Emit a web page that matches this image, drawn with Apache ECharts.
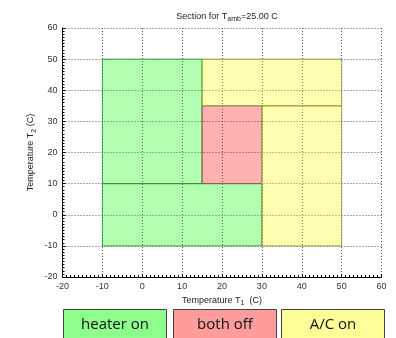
<!DOCTYPE html>
<html>
<head>
<meta charset="utf-8">
<script src="https://cdn.jsdelivr.net/npm/echarts@6/dist/echarts.min.js"></script>
<style>
  html, body { margin: 0; padding: 0; background: #fff; }
  #chart { width: 396px; height: 338px; }
</style>
</head>
<body>
<div id="chart"></div>
<script>
// Operating regions in the (T1, T2) plane, each rectangle as [x0, x1, y0, y1]
const heaterRects = [[-10, 15, 10, 50], [-10, 30, -10, 10]];
const offRects = [[15, 30, 10, 35]];
const acRects = [[15, 50, 35, 50], [30, 50, -10, 35]];

const axisTicks = [-20, -10, 0, 10, 20, 30, 40, 50, 60];
const legendNames = ['heater on', 'both off', 'A/C on'];
const ambientTemp = 25.00;

const chart = echarts.init(document.getElementById('chart'), null, { renderer: 'canvas' });

function rectSeries(name, rects, fill, edge) {
  return {
    name: name,
    type: 'custom',
    coordinateSystem: 'cartesian2d',
    data: rects,
    encode: { x: [0, 1], y: [2, 3] },
    renderItem: function (params, api) {
      const p0 = api.coord([api.value(0), api.value(3)]);
      const p1 = api.coord([api.value(1), api.value(2)]);
      return {
        type: 'rect',
        shape: { x: p0[0], y: p0[1], width: p1[0] - p0[0], height: p1[1] - p0[1] },
        style: { fill: fill, stroke: edge, lineWidth: 1 }
      };
    }
  };
}

const tickFont = { fontFamily: 'Liberation Sans', fontSize: 9, color: '#333' };
const nameRich = {
  a: { fontFamily: 'Liberation Sans', fontSize: 9, color: '#222' },
  s: { fontFamily: 'Liberation Sans', fontSize: 7, color: '#222', padding: [6, 0, 0, 0] }
};

const axisCommon = {
  type: 'value',
  min: axisTicks[0],
  max: axisTicks[axisTicks.length - 1],
  interval: 10,
  axisLine: { show: true, onZero: false, lineStyle: { color: '#000', width: 1 } },
  axisTick: { show: true, inside: true, length: 3, lineStyle: { color: '#000' } },
  minorTick: { show: true, splitNumber: 10, length: 2, lineStyle: { color: '#000' } },
  splitLine: { show: true, lineStyle: { color: '#555', type: [1, 2], width: 1 } },
  axisLabel: Object.assign({ margin: 5 }, tickFont),
  nameLocation: 'middle',
  nameMoveOverlap: false
};

const option = {
  animation: false,
  backgroundColor: '#fff',
  title: {
    text: '{a|Section for T}{s|amb}{a|=' + ambientTemp.toFixed(2) + ' C}',
    left: 222,
    top: 5,
    textAlign: 'center',
    textStyle: {
      fontWeight: 'normal',
      rich: {
        a: { fontFamily: 'Liberation Sans', fontSize: 9, fontWeight: 'normal', color: '#222' },
        s: { fontFamily: 'Liberation Sans', fontSize: 7, fontWeight: 'normal', color: '#222', padding: [6, 0, 0, 0] }
      }
    }
  },
  grid: { left: 62.5, right: 14.5, top: 28, bottom: 61, containLabel: false },
  xAxis: Object.assign({}, axisCommon, {
    name: '{a|Temperature T}{s|1}{a|  (C)}',
    nameGap: 17,
    nameTextStyle: { rich: nameRich }
  }),
  yAxis: Object.assign({}, axisCommon, {
    name: '{a|Temperature T}{s|2}{a| (C)}',
    nameGap: 25,
    nameRotate: 90,
    nameTextStyle: { rich: nameRich }
  }),
  series: [
    rectSeries(legendNames[0], heaterRects, 'rgba(0,255,0,0.3)', 'rgba(40,140,40,0.8)'),
    rectSeries(legendNames[1], offRects, 'rgba(255,0,0,0.3)', 'rgba(140,90,90,0.8)'),
    rectSeries(legendNames[2], acRects, 'rgba(255,255,0,0.3)', 'rgba(140,140,60,0.8)')
  ],
  graphic: []
};

// Legend boxes below the plot
const legendBoxes = [
  { x: 63, w: 103, fill: '#8cff8c' },
  { x: 173, w: 103, fill: '#ff9c9c' },
  { x: 281, w: 103, fill: '#ffff99' }
];
legendBoxes.forEach(function (b, i) {
  option.graphic.push({
    type: 'group',
    left: b.x,
    top: 309,
    children: [
      { type: 'rect', shape: { x: 0, y: 0, width: b.w, height: 40 },
        style: { fill: b.fill, stroke: '#444', lineWidth: 1 } },
      { type: 'text', x: b.w / 2, y: 15,
        style: { text: legendNames[i], fontFamily: 'Open Sans', fontSize: 15,
                 fill: '#111', align: 'center', verticalAlign: 'middle' } }
    ]
  });
});

chart.setOption(option);
</script>
</body>
</html>
